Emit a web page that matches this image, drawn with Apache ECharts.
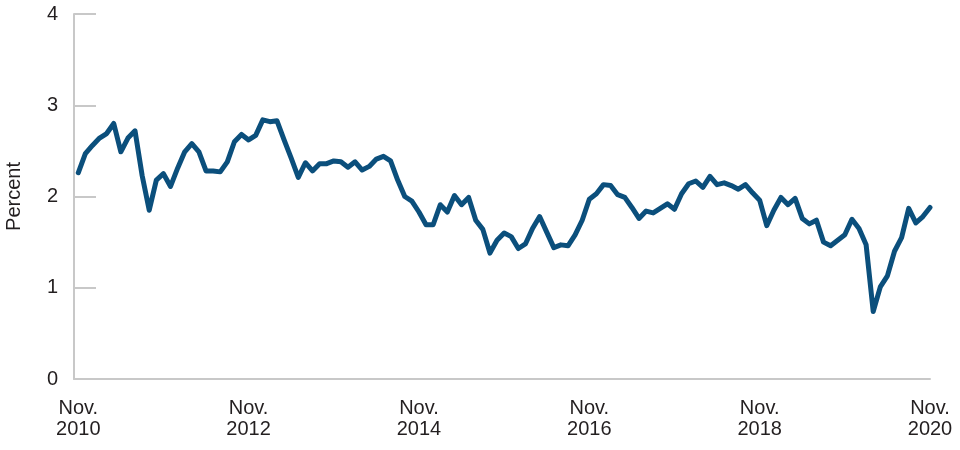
<!DOCTYPE html>
<html><head><meta charset="utf-8">
<script src="https://cdn.jsdelivr.net/npm/echarts@6/dist/echarts.min.js"></script>
<style>html,body{margin:0;padding:0;background:#fff}#c{width:960px;height:450px}</style>
</head><body><div id="c"></div>
<script>
// Monthly values, Nov. 2010 .. Nov. 2020 (percent)
const startYear = 2010, startMonth = 11;
const values = [
 2.26,2.47,2.56,2.64,2.69,2.80,2.49,2.64,2.72,2.23,1.85,2.18,
 2.25,2.11,2.31,2.49,2.58,2.49,2.28,2.28,2.27,2.38,2.60,2.68,
 2.62,2.67,2.84,2.82,2.83,2.62,2.42,2.21,2.37,2.28,2.36,2.36,
 2.39,2.38,2.32,2.38,2.29,2.33,2.41,2.44,2.39,2.18,2.00,1.95,
 1.83,1.69,1.69,1.91,1.83,2.01,1.91,1.99,1.74,1.64,1.38,1.52,
 1.60,1.56,1.43,1.48,1.65,1.78,1.61,1.44,1.47,1.46,1.58,1.74,
 1.97,2.03,2.13,2.12,2.02,1.99,1.88,1.76,1.84,1.82,1.87,1.92,
 1.86,2.03,2.14,2.17,2.10,2.22,2.13,2.15,2.12,2.08,2.13,2.04,
 1.96,1.68,1.85,1.99,1.91,1.98,1.76,1.70,1.74,1.50,1.46,1.52,
 1.58,1.75,1.65,1.47,0.74,1.01,1.13,1.40,1.55,1.87,1.71,1.78,
 1.88
];
const xTickMonths = [0,24,48,72,96,120];
const xTickLabels = ["Nov.\n2010","Nov.\n2012","Nov.\n2014","Nov.\n2016","Nov.\n2018","Nov.\n2020"];
const yTicks = [0,1,2,3,4];

const data = values.map((v,i)=>[i,v]);
const font = "'Liberation Sans', Arial, Helvetica, sans-serif";
const chart = echarts.init(document.getElementById('c'), null, {renderer:'canvas'});
chart.setOption({
  animation:false,
  grid:{left:74,right:30,top:14,bottom:71,containLabel:false,outerBoundsMode:'none'},
  xAxis:{
    type:'value', min:-0.6, max:120,
    axisLine:{show:true,onZero:false,lineStyle:{color:'#c8c8c8',width:2}},
    axisTick:{show:false},
    splitLine:{show:false},
    axisLabel:{
      customValues:xTickMonths,
      formatter:(v)=>{const k=xTickMonths.indexOf(Math.round(v));return k>=0?xTickLabels[k]:'';},
      color:'#231f20',fontSize:20,fontFamily:font,lineHeight:21,margin:19
    }
  },
  yAxis:{
    type:'value', min:0, max:4, interval:1,
    name:'Percent', nameLocation:'middle', nameGap:50, nameRotate:90,
    nameTextStyle:{color:'#231f20',fontSize:20,fontFamily:font},
    axisLine:{show:true,onZero:false,lineStyle:{color:'#c8c8c8',width:2}},
    axisTick:{show:true,inside:true,length:22,lineStyle:{color:'#c8c8c8',width:2}},
    splitLine:{show:false},
    axisLabel:{color:'#231f20',fontSize:20,fontFamily:font,margin:16,
      formatter:(v)=>yTicks.includes(v)?String(v):''}
  },
  series:[{
    type:'line', data:data, showSymbol:false, symbol:'none',
    lineStyle:{color:'#0b4f7c',width:5,join:'round',cap:'round'}
  }]
});
</script></body></html>
